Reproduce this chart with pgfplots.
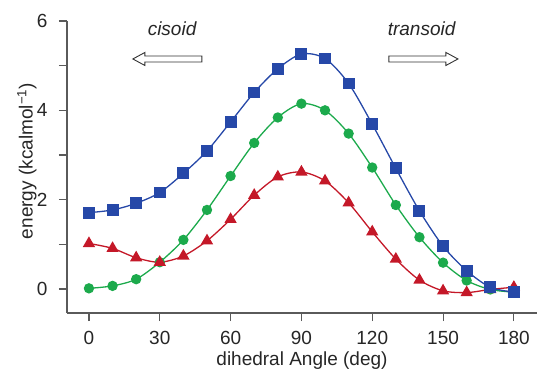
\documentclass[border=0pt]{standalone}
\usepackage{fontspec}
\setmainfont{Liberation Sans}
\usepackage{pgfplots}
\pgfplotsset{compat=1.18}
\usetikzlibrary{calc}
\definecolor{cblue}{RGB}{38,72,168}
\definecolor{cgreen}{RGB}{28,170,76}
\definecolor{cred}{RGB}{196,24,40}
\definecolor{spine}{RGB}{90,90,90}
\begin{document}
\begin{tikzpicture}
\begin{axis}[
  scale only axis, width=470pt, height=292pt,
  xmin=-9.3, xmax=189.8, ymin=-0.537, ymax=6,
  axis x line*=bottom, axis y line*=left,
  axis line style={spine, line width=1.1pt, -},
  xtick={0,30,...,180}, ytick={0,2,4,6}, minor ytick={1,3,5},
  tick align=outside, tick style={spine, line width=1.1pt},
  major tick length=8pt, minor tick length=8pt,
  /pgf/number format/assume math mode=true,
  tick label style={font=\fontsize{19}{22}\selectfont, text=black!85},
  xticklabel style={yshift=-7pt},
  yticklabel style={xshift=-8pt},
  label style={font=\fontsize{19}{22}\selectfont, text=black!85},
  xlabel={dihedral Angle (deg)},
  ylabel={energy (kcalmol\textsuperscript{\char"2212 1})},
  xlabel style={at={(axis description cs:0.5,0)}, anchor=center, yshift=-48pt},
  ylabel style={at={(axis description cs:0,0.5)}, anchor=center, rotate=0, yshift=40pt, xshift=6pt},
  clip=false,
]
\coordinate (O) at (rel axis cs:0,0);
\coordinate (A1) at (axis cs:18.6,5.15);
\coordinate (A2) at (axis cs:156.3,5.15);
\addplot[cgreen, line width=1.3pt, smooth, mark=*, mark size=4.5pt, mark options={solid, fill=cgreen, draw=cgreen}] coordinates {
(0,0.015) (10,0.07) (20,0.22) (30,0.60) (40,1.10) (50,1.77) (60,2.53) (70,3.27) (80,3.84) (90,4.15) (100,4.00) (110,3.48) (120,2.72) (130,1.88) (140,1.16) (150,0.59) (160,0.19) (170,-0.01) (180,-0.07)
};
\addplot[cred, line width=1.3pt, smooth, mark=triangle*, mark size=5.8pt, mark options={solid, fill=cred, draw=cred}] coordinates {
(0,1.02) (10,0.91) (20,0.70) (30,0.60) (40,0.74) (50,1.08) (60,1.56) (70,2.10) (80,2.51) (90,2.62) (100,2.42) (110,1.93) (120,1.28) (130,0.67) (140,0.20) (150,-0.04) (160,-0.08) (170,-0.01) (180,0.04)
};
\addplot[cblue, line width=1.3pt, smooth, mark=square*, mark size=5.3pt, mark options={solid, fill=cblue, draw=cblue}] coordinates {
(0,1.71) (10,1.77) (20,1.92) (30,2.16) (40,2.59) (50,3.09) (60,3.74) (70,4.40) (80,4.93) (90,5.26) (100,5.16) (110,4.60) (120,3.69) (130,2.70) (140,1.75) (150,0.96) (160,0.41) (170,0.04) (180,-0.07)
};
\node[font=\fontsize{19}{22}\selectfont\itshape, text=black!85] at (axis cs:35.2,5.82) {cisoid};
\node[font=\fontsize{19}{22}\selectfont\itshape, text=black!85] at (axis cs:140.9,5.82) {transoid};
\end{axis}
\draw[black!80, line width=0.9pt, fill=white] (A1) -- ++(12pt,6.5pt) -- ++(0,-3.5pt) -- ++(57pt,0) -- ++(0,-6pt) -- ++(-57pt,0) -- ++(0,-3.5pt) -- cycle;
\draw[black!80, line width=0.9pt, fill=white] (A2) -- ++(-12pt,6.5pt) -- ++(0,-3.5pt) -- ++(-57pt,0) -- ++(0,-6pt) -- ++(57pt,0) -- ++(0,-3.5pt) -- cycle;
\pgfresetboundingbox
\path ($(O)+(-67pt,-57pt)$) rectangle ($(O)+(470pt,313pt)$);
\end{tikzpicture}
\end{document}
